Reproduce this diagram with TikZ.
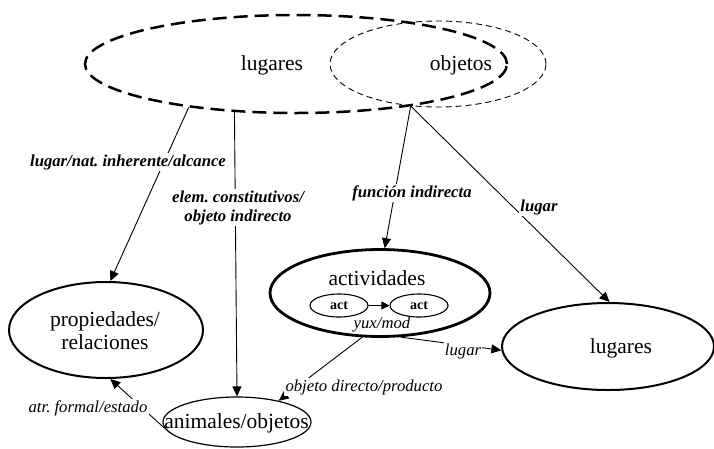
\documentclass[tikz,border=0pt]{standalone}
\usepackage{fontspec}
\setmainfont{Liberation Serif}
\usetikzlibrary{shapes.geometric,arrows.meta}
\frenchspacing

\tikzset{
  concept/.style={ellipse, draw, inner sep=0pt},
  bigtxt/.style={inner sep=0pt, font=\fontsize{21.5}{23}\selectfont},
  acttxt/.style={inner sep=0pt, font=\fontsize{14}{16}\selectfont\bfseries},
  edgelbl/.style={fill=white, inner sep=1.2pt, font=\fontsize{16.7}{19}\selectfont\itshape},
  edgelblb/.style={fill=white, inner sep=1.5pt, font=\fontsize{16.7}{19}\selectfont\bfseries\itshape},
  link/.style={draw, line width=0.9pt, -{Triangle[length=10pt,width=9pt]}},
}

\begin{document}
\begin{tikzpicture}[x=1pt, y=-1pt]
\useasboundingbox (0,0) rectangle (714,448);

% overlapping source domains
\node[concept, line width=2.5pt, dash pattern=on 14pt off 7pt,
      minimum width=422pt, minimum height=98pt] (lugA) at (296,64) {};
\node[concept, line width=0.9pt, dash pattern=on 6pt off 4pt,
      minimum width=216pt, minimum height=86pt] (objA) at (438,64) {};
\node[bigtxt] (lugAtxt) at (272,65) {lugares};
\node[bigtxt] (objAtxt) at (461,65) {objetos};

% target domains
\node[concept, line width=2.8pt, minimum width=220pt, minimum height=87pt] (actv) at (380,293) {};
\node[bigtxt] (actvtxt) at (377,278) {actividades};
\node[concept, line width=1.1pt, minimum width=58pt, minimum height=23pt] (actA) at (339,305.5) {};
\node[acttxt] (actAtxt) at (339,305.5) {act};
\node[concept, line width=1.1pt, minimum width=58pt, minimum height=23pt] (actB) at (419,305.5) {};
\node[acttxt] (actBtxt) at (419,305.5) {act};
\node[inner sep=0pt, font=\fontsize{16.7}{19}\selectfont\itshape] (yux) at (382,324) {yux/mod};

\node[concept, line width=2pt, minimum width=212pt, minimum height=87pt] (lugR) at (608,346.5) {};
\node[bigtxt] (lugRtxt) at (621,348) {lugares};

\node[concept, line width=2pt, minimum width=194pt, minimum height=96pt] (prop) at (106,330) {};
\node[bigtxt, align=center] (proptxt) at (105,331) {propiedades/\\relaciones};

\node[concept, line width=1.2pt, minimum width=148pt, minimum height=50pt] (anim) at (237,422) {};
\node[bigtxt] (animtxt) at (236.5,423) {animales/objetos};

% connectors
\draw[link] (lugA.202) -- (prop.85);
\draw[link] (lugA.218.5) -- (anim.north);
\draw[link] (objA.237.6) -- (actv.84);
\draw[link] (objA.237.6) -- (lugR.88);
\draw[line width=0.9pt, -{Triangle[length=8pt,width=8pt]}] (actA) -- (actB);
\draw[link] (actv.248.4) -- (anim.27.6);
\draw[link] (actv.295) -- (lugR.182);
\draw[link] (anim.185) -- (prop.275);

% connector labels
\node[edgelblb] (l1) at (128,162) {lugar/nat. inherente/alcance};
\node[edgelblb, align=center] (l2) at (238,207.5) {elem. constitutivos/\\objeto indirecto};
\node[edgelblb] (l3) at (412,193) {función indirecta};
\node[edgelblb] (l4) at (539,207) {lugar};
\node[edgelbl] (l5) at (364,387) {objeto directo/producto};
\node[edgelbl] (l6) at (463,351) {lugar};
\node[edgelbl] (l7) at (88,408) {atr. formal/estado};
\end{tikzpicture}
\end{document}
